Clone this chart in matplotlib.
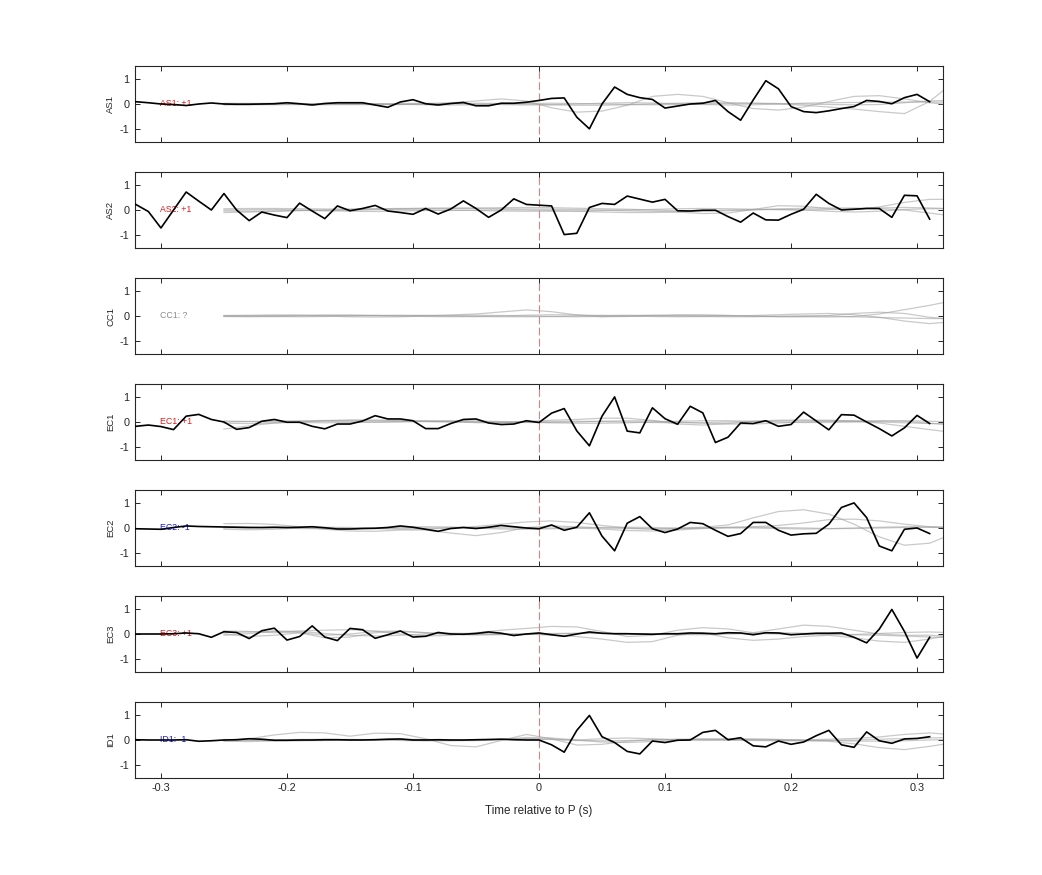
import numpy as np
import matplotlib
matplotlib.use("Agg")
import matplotlib.pyplot as plt

plt.rcParams['font.family'] = ['Liberation Sans', 'DejaVu Sans']

# ---------------- data ----------------
stations = ["AS1", "AS2", "CC1", "EC1", "EC2", "EC3", "ID1"]
polarity_labels = ["AS1: +1", "AS2: +1", "CC1: ?", "EC1: +1", "EC2: -1", "EC3: +1", "ID1: -1"]
label_colors = ["#e01818", "#e01818", "#8c8c8c", "#e01818", "#1818d8", "#e01818", "#1818d8"]

# black trace sampled every 0.01 s starting at -0.32 s
t_black_start = -0.32
t_black_step = 0.01

AS1 = [0.09, 0.05, 0.00, -0.02, -0.06, 0.00, 0.04, 0.00, -0.01, -0.01, 0.00, 0.01, 0.05, 0.01, -0.04, 0.02,
       0.05, 0.05, 0.05, -0.04, -0.13, 0.08, 0.17, 0.01, -0.04, 0.02, 0.06, -0.07, -0.07, 0.03, 0.03, 0.07, 0.14,
       0.22, 0.24, -0.52, -0.98, 0.00, 0.67, 0.38, 0.25, 0.18, -0.16, -0.08, 0.00, 0.03, 0.14, -0.30, -0.64,
       0.16, 0.92, 0.60, -0.10, -0.30, -0.34, -0.27, -0.18, -0.10, 0.14, 0.10, 0.01, 0.25, 0.38, 0.09]
AS2 = [0.22, -0.06, -0.71, 0.00, 0.71, 0.35, 0.00, 0.65, 0.00, -0.42, -0.08, -0.20, -0.30, 0.27, -0.04, -0.34,
       0.16, -0.03, 0.06, 0.18, -0.04, -0.10, -0.17, 0.06, -0.16, 0.04, 0.36, 0.06, -0.29, 0.00, 0.44, 0.22, 0.19,
       0.16, -0.97, -0.92, 0.10, 0.26, 0.22, 0.55, 0.43, 0.31, 0.42, -0.03, -0.04, -0.01, -0.01, -0.26, -0.48,
       -0.12, -0.39, -0.40, -0.17, 0.03, 0.62, 0.26, 0.00, 0.03, 0.06, 0.06, -0.29, 0.58, 0.56, -0.36]
CC1 = None
EC1 = [-0.17, -0.12, -0.18, -0.30, 0.23, 0.30, 0.10, 0.00, -0.29, -0.22, 0.03, 0.10, -0.01, -0.01, -0.17, -0.27,
       -0.08, -0.08, 0.04, 0.25, 0.12, 0.12, 0.05, -0.26, -0.26, -0.06, 0.10, 0.12, -0.04, -0.10, -0.08, 0.05, -0.02,
       0.35, 0.53, -0.35, -0.94, 0.23, 0.99, -0.36, -0.43, 0.56, 0.13, -0.09, 0.62, 0.36, -0.81, -0.60, -0.04,
       -0.06, 0.05, -0.17, -0.10, 0.39, 0.04, -0.31, 0.29, 0.27, 0.00, -0.26, -0.55, -0.23, 0.26, -0.06]
EC2 = [-0.03, -0.04, -0.05, 0.02, 0.08, 0.06, 0.05, 0.04, 0.03, 0.02, 0.02, 0.03, 0.02, 0.03, 0.05, 0.01,
       -0.04, -0.04, -0.02, -0.01, 0.02, 0.08, 0.03, -0.05, -0.13, -0.02, 0.02, -0.02, 0.03, 0.10, 0.05, 0.00, -0.03,
       0.12, -0.09, 0.03, 0.60, -0.32, -0.90, 0.19, 0.45, -0.03, -0.18, -0.04, 0.22, 0.17, -0.09, -0.33, -0.22,
       0.22, 0.22, -0.09, -0.28, -0.23, -0.21, 0.15, 0.81, 0.99, 0.41, -0.71, -0.90, -0.05, 0.00, -0.22]
EC3 = [0.00, 0.00, 0.00, 0.01, 0.04, 0.01, -0.13, 0.09, 0.06, -0.18, 0.13, 0.23, -0.24, -0.10, 0.32, -0.12,
       -0.26, 0.22, 0.17, -0.17, -0.03, 0.12, -0.12, -0.09, 0.06, 0.00, -0.01, 0.02, 0.08, 0.03, -0.06, 0.00, 0.04,
       -0.03, -0.09, 0.00, 0.08, 0.03, 0.01, 0.01, 0.00, -0.01, 0.01, 0.01, 0.04, 0.03, 0.01, 0.05, 0.04,
       -0.03, 0.05, 0.04, -0.03, 0.00, 0.03, 0.03, 0.04, -0.13, -0.35, 0.19, 0.97, 0.10, -0.95, -0.13]
ID1 = [0.01, 0.00, 0.00, 0.00, 0.01, -0.05, -0.03, 0.00, 0.01, 0.05, 0.03, -0.01, -0.01, 0.00, 0.00, 0.01,
       0.01, 0.00, 0.00, 0.01, 0.03, 0.04, 0.00, 0.00, 0.01, 0.00, 0.00, 0.01, 0.02, 0.03, 0.01, 0.00, 0.00,
       -0.19, -0.48, 0.38, 0.97, 0.13, -0.10, -0.45, -0.55, -0.04, -0.10, -0.01, 0.00, 0.30, 0.38, 0.01, 0.09,
       -0.23, -0.27, -0.04, -0.17, -0.08, 0.17, 0.38, -0.19, -0.29, 0.32, -0.03, -0.13, 0.04, 0.06, 0.13]
black_traces = [AS1, AS2, CC1, EC1, EC2, EC3, ID1]

# grey comparison traces sampled every 0.02 s starting at -0.25 s
t_grey_start = -0.25
t_grey_step = 0.02

AS1_grey = [
    [0, -0.02, -0.03, -0.02, 0, 0.02, 0.0, -0.02, 0.0, 0.05, 0.12, 0.2, 0.12, -0.15, -0.32,
     -0.28, -0.05, 0.3, 0.38, 0.3, 0.05, -0.18, -0.24, -0.12, 0.1, 0.3, 0.33, 0.2, 0.05, -0.05],
    [0, 0.02, 0.03, 0.02, 0, -0.02, -0.03, -0.02, 0, 0.02, 0.03, 0.02, 0, -0.03, -0.05,
     -0.05, -0.03, 0, 0.03, 0.05, 0.05, 0.03, 0, -0.05, -0.12, -0.2, -0.3, -0.38, 0.1, 0.9],
    [0.03, 0.02, 0, -0.02, -0.03, -0.02, 0, 0.02, 0.03, 0.02, 0, -0.02, -0.04, -0.03, 0,
     0.03, 0.05, 0.04, 0.01, -0.02, -0.04, -0.03, 0, 0.03, 0.05, 0.06, 0.07, 0.08, 0.08, 0.06],
    [-0.04, -0.03, -0.01, 0.01, 0.02, 0.02, 0.01, -0.01, -0.03, -0.04, -0.03, 0, 0.02, 0.03, 0.02,
     0, -0.02, -0.03, -0.02, 0, 0.02, 0.03, 0.02, 0, -0.02, -0.03, -0.02, 0.05, 0.12, 0.15],
]
AS2_grey = [
    [0.05, 0.06, 0.06, 0.05, 0.04, 0.04, 0.05, 0.06, 0.07, 0.07, 0.06, 0.05, 0.04, 0.03, 0.02,
     0.0, -0.03, -0.05, -0.08, -0.14, -0.12, 0.02, 0.17, 0.15, 0.05, 0.02, 0.12, 0.3, 0.42, 0.42],
    [-0.1, -0.08, -0.05, -0.02, 0.0, 0.02, 0.04, 0.05, 0.06, 0.07, 0.08, 0.09, 0.1, 0.09, 0.07,
     0.05, 0.03, 0.0, -0.03, -0.04, -0.03, 0.0, 0.04, 0.07, 0.08, 0.08, 0.05, 0.0, -0.12, -0.25],
    [-0.04, -0.05, -0.04, -0.02, -0.03, -0.05, -0.06, -0.04, -0.02, 0.0, -0.02, -0.04, -0.05, -0.05, -0.04,
     -0.02, 0.0, 0.02, 0.05, 0.06, 0.05, 0.03, 0.01, 0.0, 0.02, 0.05, 0.08, 0.1, 0.08, 0.05],
    [0.0, 0.01, 0.02, 0.0, -0.02, -0.01, 0.01, 0.02, 0.0, -0.02, -0.01, 0.01, 0.0, -0.02, -0.05,
     -0.08, -0.1, -0.1, -0.07, -0.03, 0.0, 0.02, 0.03, 0.0, -0.05, -0.08, -0.05, 0.02, 0.05, 0.05],
]
CC1_grey = [
    [0.0, 0.01, 0.02, 0.03, 0.04, 0.03, 0.02, 0.01, 0.02, 0.04, 0.08, 0.16, 0.24, 0.17, 0.04,
     -0.03, -0.02, 0.0, 0.02, 0.03, 0.02, 0.0, -0.02, -0.03, -0.04, -0.02, 0.08, 0.25, 0.42, 0.62],
    [-0.02, -0.03, -0.02, 0.0, 0.02, 0.03, 0.02, 0.0, -0.02, -0.03, -0.02, 0.0, 0.03, 0.05, 0.04,
     0.02, 0.0, -0.02, -0.03, -0.02, 0.0, 0.02, 0.05, 0.08, 0.1, 0.05, -0.05, -0.2, -0.3, -0.22],
    [0.02, 0.03, 0.04, 0.03, 0.0, -0.03, -0.04, -0.03, 0.0, 0.02, 0.03, 0.02, 0.0, -0.02, -0.03,
     -0.02, 0.0, 0.03, 0.05, 0.04, 0.02, -0.01, -0.03, -0.02, 0.02, 0.1, 0.15, 0.1, -0.05, -0.15],
    [0.0, -0.01, -0.02, -0.03, -0.02, 0.0, 0.02, 0.03, 0.02, 0.0, -0.02, -0.03, -0.03, -0.02, 0.0,
     0.02, 0.03, 0.02, 0.0, -0.02, -0.03, -0.03, -0.01, 0.01, 0.0, -0.03, -0.06, -0.08, -0.1, -0.1],
]
EC1_grey = [
    [-0.28, -0.15, -0.04, 0.02, 0.03, 0.01, -0.01, 0.0, 0.02, 0.01, -0.02, -0.03, -0.01, 0.02, 0.03,
     0.02, 0.0, -0.02, -0.03, -0.02, 0.0, 0.02, 0.04, 0.05, 0.04, 0.02, 0.0, -0.03, -0.06, -0.08],
    [0.0, 0.02, 0.04, 0.05, 0.06, 0.06, 0.05, 0.04, 0.02, 0.0, -0.02, -0.02, 0.02, 0.07, 0.1,
     0.15, 0.15, 0.06, -0.08, -0.12, -0.06, 0.03, 0.07, 0.08, 0.07, 0.04, -0.04, -0.17, -0.3, -0.42],
    [-0.05, -0.06, -0.04, 0.0, 0.05, 0.08, 0.08, 0.06, 0.04, 0.03, 0.02, 0.0, -0.02, -0.02, 0.0,
     0.03, 0.05, 0.04, 0.0, -0.05, -0.08, -0.08, -0.04, 0.0, 0.03, 0.05, 0.05, 0.03, -0.05, -0.12],
    [0.04, 0.02, 0.0, -0.02, -0.03, -0.02, 0.0, 0.02, 0.04, 0.05, 0.04, 0.02, 0.0, -0.03, -0.05,
     -0.05, -0.03, 0.0, 0.03, 0.05, 0.05, 0.03, 0.0, -0.02, -0.02, 0.0, 0.03, 0.05, 0.03, 0.0],
]
EC2_grey = [
    [0.17, 0.18, 0.14, 0.05, -0.05, -0.12, -0.13, -0.08, -0.08, -0.2, -0.3, -0.18, 0.02, 0.08, 0.05,
     0.0, -0.02, -0.03, -0.02, 0.0, 0.02, 0.03, 0.02, 0.0, -0.02, -0.02, 0.0, 0.02, 0.03, 0.02],
    [0.0, 0.01, 0.02, 0.01, 0.0, -0.01, -0.02, -0.01, 0.0, 0.01, 0.02, 0.01, 0.0, 0.0, 0.0,
     0.02, 0.03, 0.02, 0.0, 0.03, 0.12, 0.4, 0.65, 0.72, 0.55, 0.15, -0.35, -0.68, -0.6, -0.2],
    [-0.05, -0.07, -0.05, 0.0, 0.03, 0.02, -0.02, -0.05, -0.04, 0.0, 0.06, 0.15, 0.24, 0.28, 0.22,
     0.1, 0.0, -0.05, -0.03, 0.0, 0.03, 0.05, 0.1, 0.2, 0.33, 0.35, 0.28, 0.15, 0.05, 0.0],
    [0.05, 0.03, 0.0, -0.02, -0.03, -0.02, 0.0, 0.03, 0.05, 0.04, 0.0, -0.04, -0.05, -0.03, 0.0,
     -0.04, -0.1, -0.12, -0.08, -0.02, 0.0, 0.0, -0.02, -0.04, -0.03, 0.0, 0.03, 0.05, 0.04, 0.02],
]
EC3_grey = [
    [0.12, 0.1, 0.05, 0.12, 0.15, 0.17, 0.12, 0.0, -0.08, -0.05, 0.05, 0.15, 0.22, 0.3, 0.28,
     0.1, -0.1, -0.05, 0.15, 0.25, 0.2, 0.05, 0.2, 0.35, 0.3, 0.15, 0.0, -0.05, -0.05, -0.1],
    [0.0, -0.1, -0.05, 0.05, -0.15, -0.12, 0.05, 0.1, 0.05, 0.0, -0.02, -0.02, 0.0, -0.05, -0.1,
     -0.2, -0.33, -0.3, -0.05, 0.05, -0.15, -0.25, -0.2, -0.1, -0.05, -0.15, -0.28, -0.33, -0.2, 0.0],
    [0.05, 0.08, 0.12, 0.1, 0.02, -0.05, -0.08, -0.05, 0.0, 0.03, 0.02, 0.0, -0.02, 0.0, 0.02,
     0.03, 0.02, 0.0, -0.02, -0.03, 0.0, 0.03, 0.05, 0.03, 0.0, -0.03, -0.05, -0.08, -0.12, -0.15],
    [-0.05, 0.02, 0.1, 0.05, -0.05, 0.0, 0.1, 0.12, 0.05, -0.02, -0.04, -0.02, 0.0, 0.02, 0.03,
     0.02, 0.0, -0.02, -0.02, 0.0, 0.02, 0.02, 0.0, -0.02, -0.03, -0.02, 0.02, 0.06, 0.08, 0.05],
]
ID1_grey = [
    [0.0, 0.05, 0.2, 0.3, 0.28, 0.15, 0.27, 0.25, 0.05, -0.22, -0.27, -0.02, 0.22, 0.05, -0.2,
     -0.17, -0.05, 0.02, 0.03, 0.02, 0.0, -0.02, -0.03, -0.02, -0.05, -0.15, -0.3, -0.38, -0.25, -0.1],
    [-0.05, -0.06, -0.04, -0.02, 0.0, 0.02, 0.02, 0.0, -0.02, -0.03, -0.02, 0.02, 0.05, 0.03, 0.0,
     0.05, 0.08, 0.05, 0.0, -0.02, 0.0, 0.03, 0.02, 0.0, 0.03, 0.06, 0.12, 0.22, 0.28, 0.2],
    [0.02, 0.0, -0.02, -0.03, -0.02, 0.0, 0.02, 0.03, 0.02, 0.0, -0.02, 0.02, 0.1, 0.08, 0.0,
     -0.08, -0.1, -0.06, 0.0, 0.04, 0.05, 0.04, 0.02, 0.0, -0.02, -0.04, -0.05, -0.03, 0.0, 0.03],
    [-0.03, -0.02, 0.0, 0.02, 0.03, 0.02, 0.0, -0.02, -0.03, -0.02, 0.0, 0.03, 0.05, 0.02, -0.02,
     -0.03, -0.02, 0.0, 0.02, 0.03, 0.02, 0.0, -0.02, -0.03, -0.02, 0.0, 0.03, 0.06, 0.08, 0.1],
]
grey_traces = [AS1_grey, AS2_grey, CC1_grey, EC1_grey, EC2_grey, EC3_grey, ID1_grey]

x_ticks = [-0.3, -0.2, -0.1, 0, 0.1, 0.2, 0.3]
x_tick_labels = ["-0.3", "-0.2", "-0.1", "0", "0.1", "0.2", "0.3"]
y_ticks = [-1, 0, 1]
y_tick_labels = ["-1", "0", "1"]

# ---------------- figure ----------------
W, H = 1042, 875
fig = plt.figure(figsize=(W / 100, H / 100), dpi=100)

left_px, right_px = 135, 943
top0_px, ax_h_px, step_px = 66, 76, 106

for i, st in enumerate(stations):
    top = top0_px + i * step_px
    ax = fig.add_axes([left_px / W, 1 - (top + ax_h_px) / H,
                       (right_px - left_px) / W, ax_h_px / H])
    for g in grey_traces[i]:
        tg = t_grey_start + t_grey_step * np.arange(len(g))
        ax.plot(tg, g, color="0.62", lw=0.9, alpha=0.55, zorder=2)
    b = black_traces[i]
    if b is not None:
        tb = t_black_start + t_black_step * np.arange(len(b))
        ax.plot(tb, b, color="black", lw=1.2, zorder=3)
    ax.axvline(0, ymin=0.1, ymax=0.95, color=(0.88, 0.5, 0.5), lw=0.8,
               dashes=(7, 3), zorder=1.5)
    ax.text(-0.3008, 0, polarity_labels[i], color=label_colors[i], fontsize=6.3,
            va="center", ha="left", zorder=1)

    ax.set_xlim(-0.3206, 0.3206)
    ax.set_ylim(-1.5, 1.5)
    ax.set_xticks(x_ticks)
    ax.set_yticks(y_ticks)
    ax.set_yticklabels(y_tick_labels)
    ax.tick_params(direction="in", top=True, right=True, length=3.5, width=0.7,
                   labelsize=7.8, colors="#262626", pad=3.5)
    ax.tick_params(axis="y", pad=4.0)
    for s in ax.spines.values():
        s.set_linewidth(0.8)
        s.set_color("#262626")
    ax.set_ylabel(st, fontsize=6.8, color="#262626")
    ax.yaxis.set_label_coords(-0.0245, 0.5)
    if i == len(stations) - 1:
        ax.set_xticklabels(x_tick_labels)
        ax.set_xlabel("Time relative to P (s)", fontsize=8.4, color="#262626", labelpad=9)
    else:
        ax.set_xticklabels([])

fig.savefig("out.png", dpi=100)
